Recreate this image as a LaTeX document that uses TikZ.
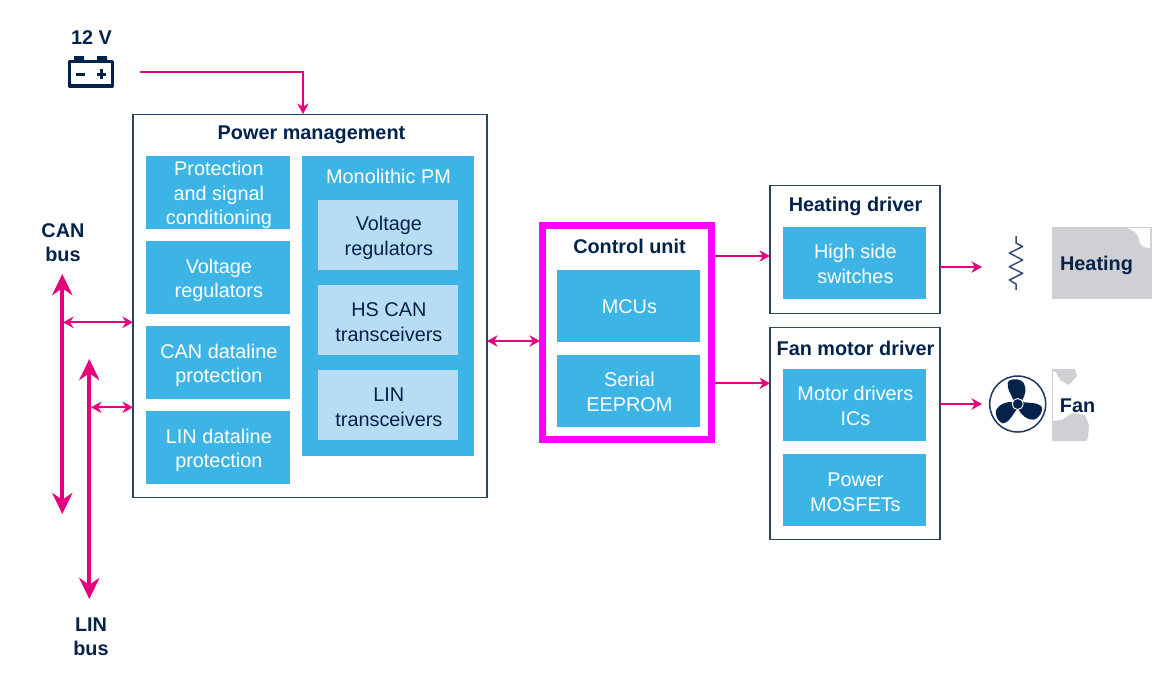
\documentclass[tikz,border=0pt]{standalone}
\usepackage{fontspec}
\setmainfont{Liberation Sans}
\usetikzlibrary{arrows.meta}
\usetikzlibrary{calc}
\definecolor{stnavy}{HTML}{03234B}
\definecolor{stblue}{HTML}{3CB4E6}
\definecolor{stlight}{HTML}{B9DCF5}
\definecolor{stpink}{HTML}{E6007E}
\definecolor{stgrey}{HTML}{D0D0D4}
\definecolor{stmagenta}{HTML}{FF00FF}
\tikzset{
    block/.style={draw=stnavy!85, line width=1.6*0.02cm, fill=white, anchor=north west, inner sep=0pt, outer sep=0pt},
    drop/.style={execute at begin node={\hspace*{1pt}\rule{0pt}{#1pt}}},
    bluebox/.style={fill=stblue, text=white, font=\fontsize{11.3}{13.8}\selectfont, align=center, inner sep=0pt, anchor=center},
    lightbox/.style={fill=stlight, text=stnavy, font=\fontsize{11.3}{13.8}\selectfont, align=center, inner sep=0pt, anchor=center},
    title/.style={text=stnavy, font=\fontsize{11.3}{13.6}\selectfont\bfseries, align=center, inner sep=0pt},
    link/.style={draw=stpink, line width=1.7*0.02cm, -{Stealth[length=6pt,width=6.5pt]}},
    linkboth/.style={draw=stpink, line width=1.7*0.02cm, {Stealth[length=6pt,width=6.5pt]}-{Stealth[length=6pt,width=6.5pt]}},
    bus/.style={draw=stpink, line width=4*0.02cm, {Stealth[length=12pt,width=11.5pt]}-{Stealth[length=12pt,width=11.5pt]}},
}
\begin{document}
\begin{tikzpicture}[x=0.02cm,y=-0.02cm]
        \useasboundingbox (0,0) rectangle (1175,681);
        % outer boxes
        \node[block, minimum height=383*0.02cm, minimum width=354*0.02cm] (pm) at (133,114.5) {};
        \node[block, minimum height=128*0.02cm, minimum width=170*0.02cm] (heat) at (770,185.5) {};
        \node[block, minimum height=212*0.02cm, minimum width=170*0.02cm] (fan) at (770,327.5) {};
        \node[draw=stmagenta, line width=6.8*0.02cm, minimum width=168.7*0.02cm, minimum height=214*0.02cm, anchor=north west, inner sep=0pt, outer sep=0pt] (cu) at (542.8,225.2) {};

        \node[title] (pmt) at (311.5,135) {Power management};
        \node[title] (cut) at (629.5,246) {Control unit};
        \node[title] (heatt) at (855.5,206) {Heating driver};
        \node[title] (fant) at (855.5,348) {Fan motor driver};

        % power management
        \node[bluebox, minimum width=144*0.02cm, minimum height=73*0.02cm, drop=38.5] (prot) at (218,192.5) {Protection\\and signal\\conditioning};
        \node[bluebox, minimum width=144*0.02cm, minimum height=73*0.02cm, drop=25.3] (vreg) at (218,277.5) {Voltage\\regulators};
        \node[bluebox, minimum width=144*0.02cm, minimum height=73*0.02cm, drop=25.3] (can) at (218,362.5) {CAN dataline\\protection};
        \node[bluebox, minimum width=144*0.02cm, minimum height=73*0.02cm, drop=25.3] (lin) at (218,447.5) {LIN dataline\\protection};
        \node[bluebox, minimum width=172*0.02cm, minimum height=300*0.02cm] (mono) at (388,306) {};
        \node[text=white, font=\fontsize{11.3}{13.6}\selectfont, inner sep=0pt] (monot) at (388.5,176) {Monolithic PM};
        \node[lightbox, minimum width=140*0.02cm, minimum height=70*0.02cm, drop=25.3] (mvreg) at (388,235) {Voltage\\regulators};
        \node[lightbox, minimum width=140*0.02cm, minimum height=70*0.02cm, drop=24.2] (mcan) at (388,320) {HS CAN\\transceivers};
        \node[lightbox, minimum width=140*0.02cm, minimum height=70*0.02cm, drop=24.2] (mlin) at (388,405) {LIN\\transceivers};

        % control unit and drivers
        \node[bluebox, minimum width=143*0.02cm, minimum height=72*0.02cm, drop=8.4] (mcu) at (628.5,306) {MCUs};
        \node[bluebox, minimum width=143*0.02cm, minimum height=72*0.02cm, drop=23] (eeprom) at (628.5,391) {Serial\\EEPROM};
        \node[bluebox, minimum width=143*0.02cm, minimum height=72*0.02cm, drop=23] (hss) at (854.5,263) {High side\\switches};
        \node[bluebox, minimum width=143*0.02cm, minimum height=72*0.02cm, drop=23] (mdrv) at (854.5,405) {Motor drivers\\ICs};
        \node[bluebox, minimum width=143*0.02cm, minimum height=72*0.02cm, drop=24.2] (mos) at (854.5,490) {Power\\MOSFETs};

        % grey patches behind the loads
        \fill[stgrey] (1052,227) rectangle (1152,299);
        \fill[white] (1128,228) .. controls (1136,232) and (1139,235) .. (1139,240) .. controls (1140,246) and (1145,248) .. (1150,248) -- (1150,228) -- cycle;
        \fill[stgrey] (1052,369) -- (1075,369) -- (1077,376) -- (1069,385) -- (1060,380) -- (1056,372) -- (1052,371) -- cycle;
        \fill[stgrey] (1052,369) rectangle (1053,441);
        \fill[stgrey] (1052,441) -- (1052,421) -- (1062,420) -- (1072,413) -- (1085,415) -- (1089,425) -- (1088,438) -- (1086,441) -- cycle;

        \node[title] (heattxt) at (1096.5,265) {Heating};
        \node[title] (fantxt) at (1077.5,405.5) {Fan};

        % resistor
        \coordinate (res) at (982,267);
        \draw[stnavy!80, line width=1.5*0.02cm, line join=round] (1016,236) -- (1016,243) -- (1022.7,246.5) -- (1009.3,253) -- (1022.7,260) -- (1009.3,266.7) -- (1022.7,273.3) -- (1009.3,280) -- (1016,284) -- (1016,290);

        % fan
        \coordinate (fanc) at (1017.7,404);
        \draw[stnavy!90, line width=1.5*0.02cm] (fanc) circle (28);
        \foreach \a in {0,120,240}{
            \begin{scope}[shift={(fanc)}, rotate=\a]
                \fill[stnavy, line join=round] (-4,-3) .. controls (-6,-9) and (-11,-15) .. (-10,-21) .. controls (-9,-26) and (3,-26) .. (6,-21) .. controls (9,-16) and (8,-9) .. (4,-3) -- cycle;
            \end{scope}
        }
        \draw[draw=white, fill=stnavy, line width=0.9*0.02cm] (fanc) circle (5.5);
        \coordinate (fanin) at (982,404);

        % battery
        \node[title] (bat) at (91.5,38) {12 V};
        \draw[stnavy, line width=3.4*0.02cm, line join=round] (69.5,61.5) rectangle (112.2,86);
        \fill[stnavy] (74,56) rectangle (84,61) (97,56) rectangle (107,61);
        \draw[stnavy, line width=3*0.02cm] (76,74) -- (85,74) (97,74) -- (106,74) (101.5,69) -- (101.5,79);
        \coordinate (batout) at (140,72);
        \coordinate (pmin) at (303,114);

        % buses
        \coordinate (cantop) at (62.3,274);
        \coordinate (canbot) at (62.3,514);
        \coordinate (lintop) at (89.3,359);
        \coordinate (linbot) at (89.3,599);
        \coordinate (cantap) at (63,322.3);
        \coordinate (lintap) at (91,407.3);
        \node[title] (cant) at (63,243) {CAN\\bus};
        \node[title] (lint) at (91,637) {LIN\\bus};
        \draw[bus] (cantop) -- (canbot);
        \draw[bus] (lintop) -- (linbot);
        \draw[linkboth] (cantap) -- (cantap -| pm.west);
        \draw[linkboth] (lintap) -- (lintap -| pm.west);

        % links
        \draw[link] (batout) -| (pmin);
        \coordinate (cuw) at (540,341);
        \draw[linkboth] (cuw -| pm.east) -- (cuw);
        \coordinate (h1) at (715,256);
        \coordinate (f1) at (715,383.3);
        \draw[link] (h1) -- (h1 -| heat.west);
        \draw[link] (f1) -- (f1 -| fan.west);
        \draw[link] (heat.east |- res) -- (res);
        \draw[link] (fan.east |- fanin) -- (fanin);
\end{tikzpicture}
\end{document}
